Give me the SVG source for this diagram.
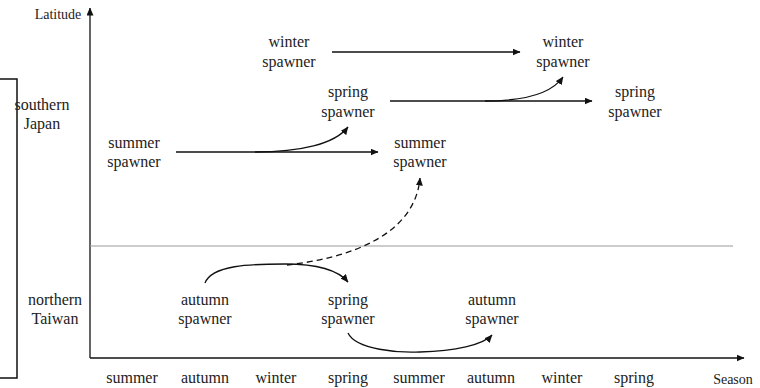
<svg xmlns="http://www.w3.org/2000/svg" width="760" height="388" viewBox="0 0 760 388">
<defs>
<marker id="ah" markerWidth="8" markerHeight="7" refX="7.5" refY="3.5" orient="auto" markerUnits="userSpaceOnUse">
<path d="M0,0 L8,3.5 L0,7 Z" fill="#111"/>
</marker>
<style>
text{font-family:"Liberation Serif","Times New Roman",serif;fill:#222;font-size:16px;text-anchor:middle}
.sm{font-size:14px}
.ln{fill:none;stroke:#111;stroke-width:1.3}
.ar{fill:none;stroke:#111;stroke-width:1.3;marker-end:url(#ah)}
.da{fill:none;stroke:#111;stroke-width:1.3;stroke-dasharray:6,4;marker-end:url(#ah)}
</style>
</defs>
<rect width="760" height="388" fill="#fff"/>
<g id="axes">
<path class="ar" d="M90,358 V8"/>
<path class="ar" d="M90,358 H744"/>
<line x1="90" y1="246" x2="733" y2="246" stroke="#999" stroke-width="1.2"/>
<path d="M0,79 H17 V378 H0" fill="none" stroke="#111" stroke-width="1.5"/>
<text class="sm" x="58" y="19">Latitude</text>
<text class="sm" x="733" y="384">Season</text>
</g>
<g id="region-japan"><text x="42" y="110">southern</text><text x="42" y="129">Japan</text></g>
<g id="region-taiwan"><text x="55" y="305">northern</text><text x="55" y="324">Taiwan</text></g>
<g id="season-labels">
<text x="132" y="383">summer</text>
<text x="205" y="383">autumn</text>
<text x="276" y="383">winter</text>
<text x="348" y="383">spring</text>
<text x="419" y="383">summer</text>
<text x="491" y="383">autumn</text>
<text x="562" y="383">winter</text>
<text x="634" y="383">spring</text>
</g>
<g id="jp-summer-1"><text x="134" y="148">summer</text><text x="134" y="167">spawner</text></g>
<g id="jp-winter-1"><text x="289" y="47">winter</text><text x="289" y="67">spawner</text></g>
<g id="jp-spring-1"><text x="348" y="97">spring</text><text x="348" y="117">spawner</text></g>
<g id="jp-summer-2"><text x="420" y="148">summer</text><text x="420" y="167">spawner</text></g>
<g id="jp-winter-2"><text x="563" y="47">winter</text><text x="563" y="67">spawner</text></g>
<g id="jp-spring-2"><text x="635" y="97">spring</text><text x="635" y="117">spawner</text></g>
<g id="tw-autumn-1"><text x="205" y="305">autumn</text><text x="205" y="324">spawner</text></g>
<g id="tw-spring"><text x="348" y="305">spring</text><text x="348" y="324">spawner</text></g>
<g id="tw-autumn-2"><text x="492" y="305">autumn</text><text x="492" y="324">spawner</text></g>
<g id="connectors">
<path class="ar" d="M332,52 H520"/>
<path class="ar" d="M176,152 H378"/>
<path class="ar" d="M255,152 C300,152 335,144 348,127"/>
<path class="ar" d="M390,101 H592"/>
<path class="ar" d="M485,101 C525,101 552,93 563,77"/>
<path class="ar" d="M205,283 C212,265 250,264 285,264 C315,264 338,270 348,282"/>
<path class="da" d="M287,265 C350,258 415,235 420,178"/>
<path class="ar" d="M348,333 C356,350 400,353 420,352 C455,351 483,345 492,335"/>
</g>
</svg>
